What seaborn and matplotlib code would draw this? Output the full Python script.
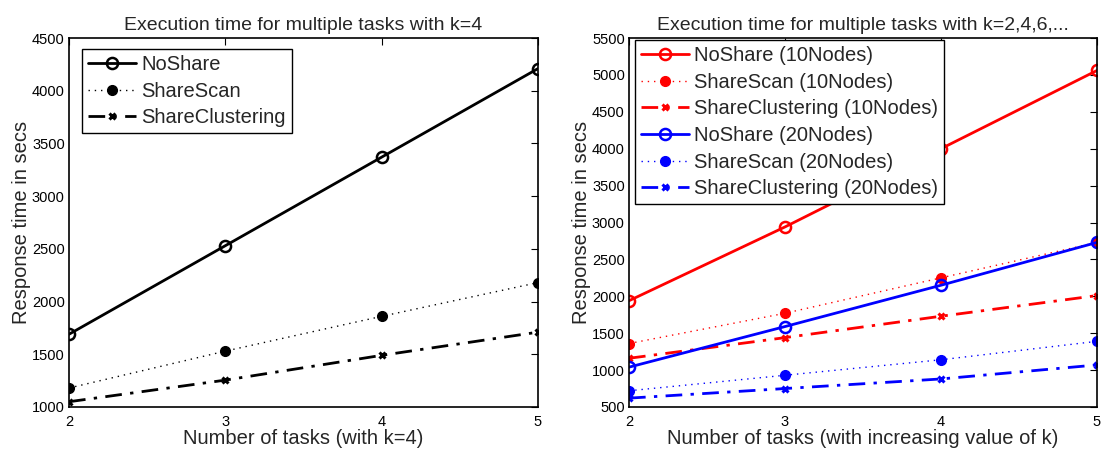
import matplotlib
matplotlib.use("Agg")
import matplotlib.pyplot as plt
import seaborn as sns
import numpy as np

sns.set_theme(style="white")
plt.rcParams['font.family'] = ['Liberation Sans', 'DejaVu Sans']

tasks = [2, 3, 4, 5]

# Left chart (k=4)
left_noshare = [1690, 2530, 3370, 4210]
left_sharescan = [1180, 1530, 1860, 2180]
left_shareclust = [1050, 1255, 1490, 1710]

# Right chart (increasing k)
r10_noshare = [1940, 2940, 4000, 5060]
r10_sharescan = [1360, 1770, 2250, 2730]
r10_shareclust = [1160, 1440, 1730, 2010]
r20_noshare = [1040, 1590, 2150, 2730]
r20_sharescan = [720, 930, 1140, 1390]
r20_shareclust = [620, 750, 880, 1070]

left_labels = ["NoShare", "ShareScan", "ShareClustering"]
right_labels = ["NoShare (10Nodes)", "ShareScan (10Nodes)", "ShareClustering (10Nodes)",
                "NoShare (20Nodes)", "ShareScan (20Nodes)", "ShareClustering (20Nodes)"]

fig = plt.figure(figsize=(11.06, 4.5), dpi=100)
ax1 = fig.add_axes([69/1106, 1-407/450, 469/1106, 369/450])
ax2 = fig.add_axes([629/1106, 1-407/450, 468/1106, 369/450])

styles = [
    dict(linestyle='-', marker='o', markerfacecolor='none', markersize=8, markeredgewidth=1.8, linewidth=2.0),
    dict(linestyle=(0, (1, 3.5)), marker='o', markersize=7, markeredgewidth=1.0, linewidth=1.0),
    dict(linestyle=(0, (6, 3, 1.2, 3)), marker='x', markersize=5, markeredgewidth=2.2, linewidth=2.0),
]


def draw(ax, x, y, color, st, label):
    s = dict(st)
    if s.get('markerfacecolor') != 'none':
        s['markerfacecolor'] = color
    sns.lineplot(x=x, y=y, ax=ax, color=color, label=label, markeredgecolor=color, **s)


for y, st, lab in zip([left_noshare, left_sharescan, left_shareclust], styles, left_labels):
    draw(ax1, tasks, y, 'black', st, lab)

right_series = [r10_noshare, r10_sharescan, r10_shareclust, r20_noshare, r20_sharescan, r20_shareclust]
for i, (y, lab) in enumerate(zip(right_series, right_labels)):
    color = '#ff0000' if i < 3 else '#0000ff'
    draw(ax2, tasks, y, color, styles[i % 3], lab)

for ax in (ax1, ax2):
    ax.set_xlim(2, 5)
    ax.set_xticks(tasks)
    ax.tick_params(direction='in', top=True, right=True, length=5, width=0.8,
                   labelsize=10.5, pad=3, colors='black')
    ax.tick_params(axis='x', pad=6)
    for sp in ax.spines.values():
        sp.set_color('black')
        sp.set_linewidth(1.2)
    ax.set_ylabel("Response time in secs", fontsize=14.5, labelpad=1)
    ax.grid(False)

ax1.set_ylim(1000, 4500)
ax1.set_yticks(np.arange(1000, 4501, 500))
ax2.set_ylim(500, 5500)
ax2.set_yticks(np.arange(500, 5501, 500))

ax1.set_title("Execution time for multiple tasks with k=4", fontsize=14, pad=6)
ax2.set_title("Execution time for multiple tasks with k=2,4,6,...", fontsize=14, pad=6)
ax1.set_xlabel("Number of tasks (with k=4)", fontsize=14.5, labelpad=0)
ax2.set_xlabel("Number of tasks (with increasing value of k)", fontsize=14.5, labelpad=0)

leg_kw = dict(loc='upper left', fontsize=14.5, frameon=True, framealpha=1,
              fancybox=False, edgecolor='black', handlelength=2.4, handletextpad=0.25,
              borderpad=0.3, labelspacing=0.38, borderaxespad=0)
leg1 = ax1.legend(bbox_to_anchor=(13/469, 1-11/369), **leg_kw)
leg1.get_frame().set_linewidth(1.0)
leg2 = ax2.legend(bbox_to_anchor=(6/468, 1-2/369), **leg_kw)
leg2.get_frame().set_linewidth(1.0)

fig.savefig("out.png", dpi=100)
